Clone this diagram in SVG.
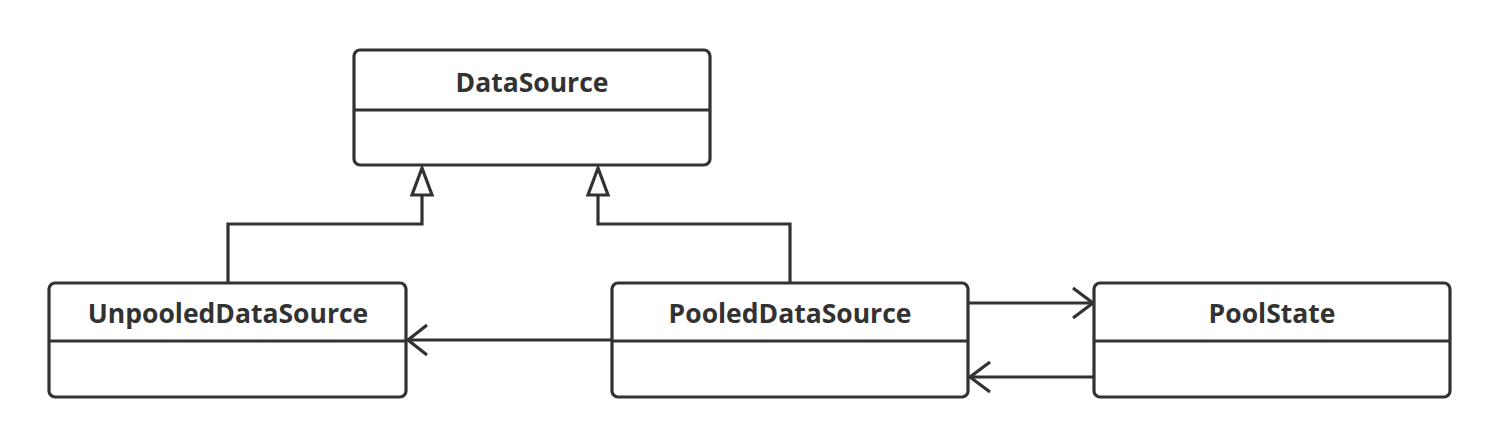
<svg xmlns="http://www.w3.org/2000/svg" width="1500" height="448" viewBox="0 0 1500 448">
<style>
.box{fill:#fff;stroke:#323232;stroke-width:3.2}
.div{stroke:#323232;stroke-width:3.2}
.lbl{font-family:"Open Sans","Noto Sans",sans-serif;font-weight:bold;font-size:26.5px;fill:#323232;text-anchor:middle}
.edge{fill:none;stroke:#323232;stroke-width:3.2}
.tri{fill:#fff;stroke:#323232;stroke-width:3.2;stroke-linejoin:miter}
</style>
<rect width="1500" height="448" fill="#fff"/>
<g id="connectors">
<polyline class="edge" points="228,283 228,224 422,224 422,195"/>
<polygon class="tri" points="422,168 412,195 432,195"/>
<polyline class="edge" points="790,283 790,224 598,224 598,195"/>
<polygon class="tri" points="598,168 588,195 608,195"/>
<line class="edge" x1="612" y1="340" x2="408" y2="340"/>
<polyline class="edge" points="427,325 408,340 427,355"/>
<line class="edge" x1="964" y1="303" x2="1093" y2="303"/>
<polyline class="edge" points="1073,288 1093,303 1073,318"/>
<line class="edge" x1="1094" y1="377" x2="970" y2="377"/>
<polyline class="edge" points="990,362 970,377 990,392"/>
</g>
<g id="DataSource">
<rect class="box" x="354" y="50" width="356" height="115" rx="6"/>
<line class="div" x1="354" y1="110" x2="710" y2="110"/>
<text class="lbl" x="532" y="92">DataSource</text>
</g>
<g id="UnpooledDataSource">
<rect class="box" x="49" y="283" width="357" height="114" rx="6"/>
<line class="div" x1="49" y1="341" x2="406" y2="341"/>
<text class="lbl" x="228" y="323">UnpooledDataSource</text>
</g>
<g id="PooledDataSource">
<rect class="box" x="612" y="283" width="356" height="114" rx="6"/>
<line class="div" x1="612" y1="341" x2="968" y2="341"/>
<text class="lbl" x="790" y="323">PooledDataSource</text>
</g>
<g id="PoolState">
<rect class="box" x="1094" y="283" width="356" height="114" rx="6"/>
<line class="div" x1="1094" y1="341" x2="1450" y2="341"/>
<text class="lbl" x="1272" y="323">PoolState</text>
</g>
</svg>
